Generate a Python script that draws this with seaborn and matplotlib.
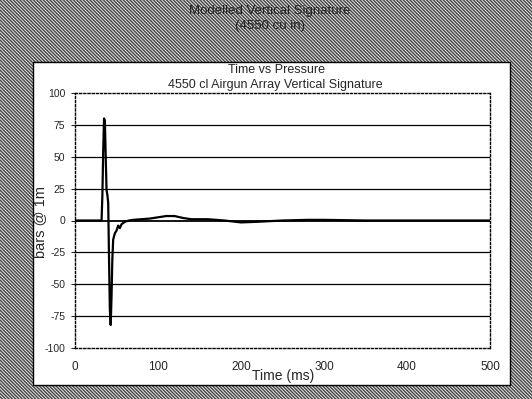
import matplotlib
matplotlib.use("Agg")
import matplotlib.pyplot as plt
from matplotlib.patches import Rectangle
import seaborn as sns
import pandas as pd

# ---- data ----
time_ms = [0, 30, 32, 33, 34, 35, 36, 37, 38, 39, 40, 41, 42, 43, 44, 45, 46,
           48, 50, 52, 54, 56, 58, 60, 65, 70, 80, 90, 100, 110, 120, 130,
           140, 160, 180, 200, 220, 250, 280, 300, 350, 400, 450, 500]
pressure = [0, 0, 0, 20, 55, 80, 78, 50, 24, 20, 14, -30, -70, -82, -60, -30,
            -15, -10, -8, -4, -6, -3, -2, -1, 0, 0.5, 1, 1.5, 2.5, 3.5, 3.5,
            2, 1, 1, 0, -1.5, -1, 0, 0.5, 0.5, 0, 0, 0, 0]
x_ticks = [0, 100, 200, 300, 400, 500]
y_ticks = [-100, -75, -50, -25, 0, 25, 50, 75, 100]
header_lines = ["Modelled Vertical Signature", "(4550 cu in)"]
title_lines = ["Time vs Pressure", "4550 cl Airgun Array Vertical Signature"]
x_label = "Time (ms)"
y_label = "bars @ 1m"

sns.set_style("white")
plt.rcParams["font.family"] = ["Liberation Sans", "DejaVu Sans"]
plt.rcParams["hatch.linewidth"] = 1.0

W, H = 532, 399
fig = plt.figure(figsize=(W / 100, H / 100), dpi=100)
fig.patch.set_facecolor("white")

# hatched outer background
bg = Rectangle((0, 0), 1, 1, transform=fig.transFigure, facecolor="#e8e8e8",
               edgecolor="#444444", hatch="\\" * 10, linewidth=0, zorder=-10)
fig.patches.append(bg)

# inner white panel
px0, py0, px1, py1 = 33, 62, 510, 385
panel = Rectangle((px0 / W, 1 - py1 / H), (px1 - px0) / W, (py1 - py0) / H,
                  transform=fig.transFigure, facecolor="white",
                  edgecolor="black", linewidth=1.0, zorder=-5)
fig.patches.append(panel)

# header text on hatch
fig.text(270 / W, 1 - 11 / H, header_lines[0], ha="center", va="center",
         fontsize=9.5, color="#222222")
fig.text(270 / W, 1 - 26 / H, header_lines[1], ha="center", va="center",
         fontsize=9.5, color="#222222")

# chart titles
fig.text(277 / W, 1 - 70 / H, title_lines[0], ha="center", va="center", fontsize=9)
fig.text(275 / W, 1 - 85 / H, title_lines[1], ha="center", va="center", fontsize=9)

ax_l, ax_r, ax_t, ax_b = 75, 490, 93, 348
ax = fig.add_axes([ax_l / W, 1 - ax_b / H, (ax_r - ax_l) / W, (ax_b - ax_t) / H])
ax.set_facecolor("none")

df = pd.DataFrame({"time": time_ms, "pressure": pressure})
sns.lineplot(data=df, x="time", y="pressure", ax=ax, color="black",
             linewidth=1.6, zorder=5)

ax.set_xlim(0, 500)
ax.set_ylim(-100, 100)
ax.set_xticks(x_ticks)
ax.set_yticks(y_ticks)
ax.set_xticklabels([str(v) for v in x_ticks])
ax.set_yticklabels([str(v) for v in y_ticks])
ax.tick_params(axis="x", length=0, pad=9, labelsize=8.5)
ax.tick_params(axis="y", length=3, width=0.8, direction="out", pad=4,
               labelsize=7.5, left=True)

for v in y_ticks:
    if abs(v) == 100:
        continue
    ax.axhline(v, color="black", linewidth=1.3 if v == 0 else 0.9, zorder=1)

for s in ax.spines.values():
    s.set_visible(True)
    s.set_color("black")
    s.set_linewidth(1.0)
    s.set_linestyle((0, (1.5, 1.5)))

ax.set_xlabel(x_label, fontsize=10)
ax.xaxis.set_label_coords((283 - ax_l) / (ax_r - ax_l), (ax_b - 369) / (ax_b - ax_t))
ax.set_ylabel(y_label, fontsize=10.5)
ax.yaxis.set_label_coords((47 - ax_l) / (ax_r - ax_l), 0.494)

fig.savefig("out.png", dpi=100)
